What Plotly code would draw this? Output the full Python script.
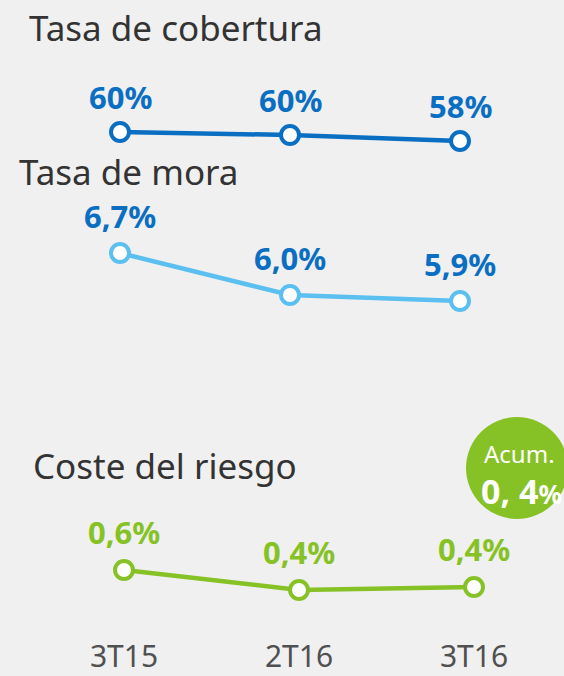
import plotly.graph_objects as go

periods = ["3T15", "2T16", "3T16"]
cobertura = [60.4, 59.7, 58.3]
cobertura_lbl = ["60%", "60%", "58%"]
mora = [6.7, 6.0, 5.9]
mora_lbl = ["6,7%", "6,0%", "5,9%"]
coste = [0.60, 0.40, 0.43]
coste_lbl = ["0,6%", "0,4%", "0,4%"]

W, H = 564, 676
MB = 40
PH = H - MB
BG = "#f0f0f0"
DARK = "#0a6fc2"
LIGHT = "#5bbff0"
GREEN = "#86c226"
FONT = "Noto Sans"

def yrange(v, py, k):
    top = v + py / k
    return [top - PH / k, top]

def xrange(px0, k):
    r0 = -px0 / k
    return [r0, r0 + W / k]

xi = list(range(len(periods)))
fig = go.Figure()

series = [
    (cobertura, cobertura_lbl, DARK, DARK, "x", "y", 35),
    (mora, mora_lbl, LIGHT, DARK, "x2", "y2", 37),
    (coste, coste_lbl, GREEN, GREEN, "x3", "y3", 38),
]
for vals, lbls, col, lblcol, xa, ya, sh in series:
    fig.add_trace(go.Scatter(
        x=xi, y=vals, mode="lines+markers", xaxis=xa, yaxis=ya,
        line=dict(color=col, width=4.5),
        marker=dict(size=18, color="white", line=dict(color=col, width=4)),
        hoverinfo="skip", showlegend=False, cliponaxis=False))
    for xv, yv, t in zip(xi, vals, lbls):
        fig.add_annotation(x=xv, y=yv, xref=xa, yref=ya, text="<b>%s</b>" % t,
                           showarrow=False, yshift=sh, xanchor="center", yanchor="middle",
                           font=dict(family=FONT, size=31, color=lblcol))

hidden = dict(visible=False, showgrid=False, zeroline=False)
fig.update_layout(
    width=W, height=H, paper_bgcolor=BG, plot_bgcolor=BG,
    margin=dict(l=0, r=0, t=0, b=MB, autoexpand=False),
    xaxis=dict(range=xrange(120, 170), anchor="y", **hidden),
    yaxis=dict(range=yrange(cobertura[0], 132, 4.3), anchor="x", **hidden),
    xaxis2=dict(range=xrange(120, 170), anchor="y2", overlaying="x", **hidden),
    yaxis2=dict(range=yrange(mora[0], 253, 60), anchor="x2", overlaying="y", **hidden),
    xaxis3=dict(range=xrange(124, 175), anchor="y3", overlaying="x",
                tickvals=xi, ticktext=periods, automargin=False,
                showgrid=False, zeroline=False, showline=False, ticks="",
                tickfont=dict(family=FONT, size=30, color="#505050")),
    yaxis3=dict(range=yrange(coste[0], 570, 100), anchor="x3", overlaying="y", **hidden),
)

titles = [("Tasa de cobertura", 27, 27), ("Tasa de mora", 17, 172), ("Coste del riesgo", 31, 466)]
for t, px, py in titles:
    fig.add_annotation(text=t, xref="paper", yref="paper", x=px / W, y=1 - py / PH,
                       xanchor="left", yanchor="middle", showarrow=False,
                       font=dict(family=FONT, size=35, color="#333333"))

# badge
cx, cy, r = 517, 468, 51
def pxy(x, y):
    return x / W, (H - MB - y) / PH
x0, y0 = pxy(cx - r, cy + r)
x1, y1 = pxy(cx + r, cy - r)
fig.add_shape(type="circle", xref="paper", yref="paper", x0=x0, y0=y0, x1=x1, y1=y1,
              fillcolor=GREEN, line=dict(width=0), layer="above")
ax, ay = pxy(519, 454)
fig.add_annotation(text="Acum.", xref="paper", yref="paper", x=ax, y=ay, showarrow=False,
                   xanchor="center", yanchor="middle",
                   font=dict(family=FONT, size=24, color="white"))
bx, by = pxy(521, 491)
fig.add_annotation(text="<b>0, 4<span style='font-size:26px'>%</span></b>", xref="paper", yref="paper",
                   x=bx, y=by, showarrow=False, xanchor="center", yanchor="middle",
                   font=dict(family=FONT, size=34, color="white"))

fig.write_html("out.html", config={"displayModeBar": False},
               post_script="document.body.style.margin='0';document.body.style.overflow='hidden';")
